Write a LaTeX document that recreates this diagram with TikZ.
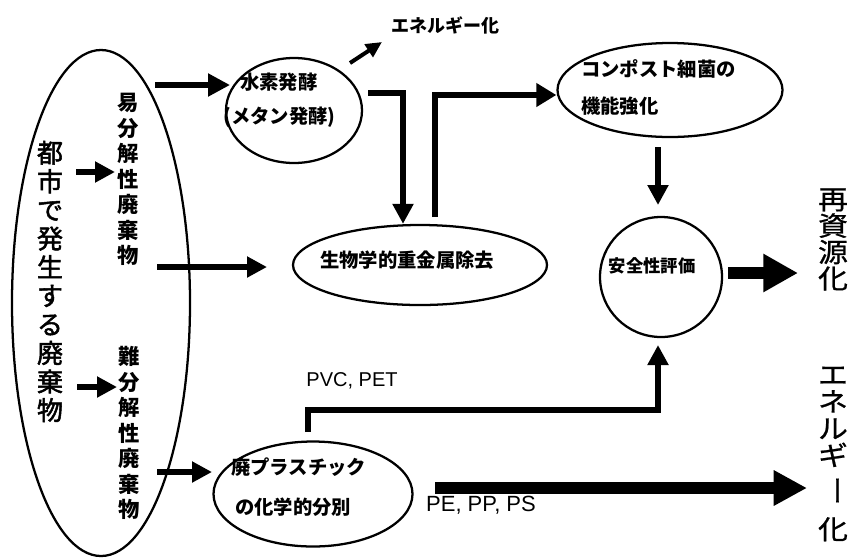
\documentclass[tikz,border=0pt]{standalone}
\usepackage{fontspec}
\setmainfont{Liberation Sans}
\newfontfamily\jp{Noto Sans CJK JP}
\newfontfamily\jpm[FakeBold=2]{Noto Sans CJK JP}
\newfontfamily\jpw[FakeStretch=1.12,FakeBold=0.8]{Noto Sans CJK JP}
\usetikzlibrary{shapes.geometric,arrows.meta}
\tikzset{
  ell/.style={draw, ellipse, line width=1.7pt, inner sep=0pt},
  jpb/.style={font=\jp\bfseries\fontsize{14.5pt}{18pt}\selectfont, inner sep=0pt},
  en/.style={font=\fontsize{15pt}{18pt}\selectfont, inner sep=0pt},
  vcol/.style={align=center, inner sep=0pt},
  thk/.style={line width=3.9pt, -{Triangle[length=15pt,width=15pt]}},
  thn/.style={line width=3pt, -{Triangle[length=12pt,width=11pt]}},
  big/.style={line width=9.5pt, -{Triangle[length=26pt,width=27pt]}}
}
\begin{document}
\begin{tikzpicture}[x=0.75pt,y=-0.75pt]
\useasboundingbox (0,0) rectangle (855,558);
% ellipses
\node[ell, minimum width=133.5pt, minimum height=379.5pt] (waste) at (101,303) {};
\node[ell, minimum width=102pt, minimum height=78.75pt] (hydro) at (294,110.5) {};
\node[ell, minimum width=190.5pt, minimum height=60pt] (metal) at (420,265) {};
\node[ell, minimum width=168.75pt, minimum height=70.5pt] (compost) at (670,90) {};
\node[ell, minimum width=91.5pt, minimum height=90pt] (safety) at (661,277) {};
\node[ell, minimum width=149.25pt, minimum height=78.75pt] (plastic) at (313,494) {};
% texts
\node[jpb, anchor=west] (t1) at (240,82) {水素発酵};
\node[jpb, anchor=west] (t2) at (223,117) {(メタン発酵)};
\node[jpb, anchor=west] (t3) at (581,69) {コンポスト細菌の};
\node[jpb, anchor=west] (t4) at (581,106) {機能強化};
\node[jpb] (t5) at (407,260) {生物学的重金属除去};
\node[jpb, font=\jp\bfseries\fontsize{13pt}{16pt}\selectfont] (t6) at (652,266) {安全性評価};
\node[jpb, anchor=west] (t7) at (231,467) {廃プラスチック};
\node[jpb, anchor=west] (t8) at (235,507) {の化学的分別};
\node[jpb, font=\jp\bfseries\fontsize{13.5pt}{16pt}\selectfont] (t9) at (445,25) {エネルギー化};
\node[en] (t10) at (352,381) {PVC, PET};
\node[en, font=\fontsize{16.5pt}{19pt}\selectfont] (t11) at (481,505) {PE, PP, PS};
% vertical columns
\node[vcol, font={\jpm\fontsize{19.5pt}{21.45pt}\selectfont\lineskiplimit=-20pt}] (city) at (50,281.5) {都\\市\\で\\発\\生\\す\\る\\廃\\棄\\物};
\node[vcol, font={\jp\bfseries\fontsize{16pt}{19.1pt}\selectfont\lineskiplimit=-20pt}] (easy) at (128,179.5) {易\\分\\解\\性\\廃\\棄\\物};
\node[vcol, font={\jp\bfseries\fontsize{16pt}{19.1pt}\selectfont\lineskiplimit=-20pt}] (hard) at (129,433) {難\\分\\解\\性\\廃\\棄\\物};
\node[vcol, font={\jpw\fontsize{20pt}{19.8pt}\selectfont\lineskiplimit=-20pt}] (recyc) at (833,239.5) {再\\資\\源\\化};
\node[vcol, font={\jpw\fontsize{20pt}{20.2pt}\selectfont\lineskiplimit=-20pt}] (energy) at (833,454) {エ\\ネ\\ル\\ギ\\[3pt]\rotatebox[origin=c]{-90}{ー}\\[12pt]化};
% coordinates
\coordinate (a1s) at (76,172);  \coordinate (a1e) at (115,172);
\coordinate (a2s) at (77,387);  \coordinate (a2e) at (117,387);
\coordinate (a3s) at (155,85);  \coordinate (a3e) at (230,85);
\coordinate (a4s) at (157,267); \coordinate (a4e) at (267,267);
\coordinate (a5s) at (157,472); \coordinate (a5e) at (212,472);
\coordinate (a6s) at (350,63);  \coordinate (a6e) at (382,42);
\coordinate (a7s) at (368,93);  \coordinate (a7m) at (403,93);
\coordinate (a8s) at (435,217); \coordinate (a8m) at (435,95);
\coordinate (a9s) at (658,147); \coordinate (a9e) at (658,205);
\coordinate (a10s) at (308,432); \coordinate (a10m) at (308,410); \coordinate (a10n) at (658,410); \coordinate (a10e) at (658,345);
\coordinate (a11s) at (728,273); \coordinate (a11e) at (798,273);
\coordinate (a12s) at (435,488); \coordinate (a12e) at (807,488);
% connectors
\draw[thk] (a1s) -- (a1e);
\draw[thk] (a2s) -- (a2e);
\draw[thk, -{Triangle[length=16.5pt,width=16.5pt]}] (a3s) -- (a3e);
\draw[thk] (a4s) -- (a4e);
\draw[thk] (a5s) -- (a5e);
\draw[thn] (a6s) -- (a6e);
\draw[thk] (a7s) -- (a7m) -- (a7m |- metal.north);
\draw[thk, -{Triangle[length=15pt,width=17pt]}] (a8s) -- (a8m) -- (a8m -| compost.west);
\draw[thk] (a9s) -- (a9e);
\draw[thk] (a10s) -- (a10m) -- (a10n) -- (a10e);
\draw[big] (a11s) -- (a11e);
\draw[big, line width=9pt, -{Triangle[length=25pt,width=25pt]}] (a12s) -- (a12e);
\end{tikzpicture}
\end{document}
